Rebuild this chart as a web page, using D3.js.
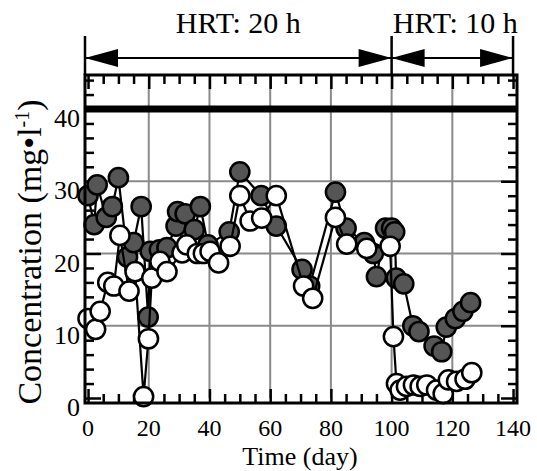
<!DOCTYPE html>
<html><head><meta charset="utf-8">
<script src="https://cdn.jsdelivr.net/npm/d3@7"></script>
<style>body{margin:0;background:#fff}svg{display:block}text{font-family:"Liberation Serif","Times New Roman",serif;fill:#000}</style>
</head><body><svg id="c" width="537" height="471"></svg>
<script>
const grayDays = [0, 2, 3, 6, 8, 10, 13, 15, 17.5, 19.8, 20.5, 23.5, 26, 29, 29.5, 32, 35, 37, 39.5, 46.5, 50, 57, 62, 70.5, 73, 81.5, 85, 91, 94, 95, 98, 100, 101, 101.5, 104, 107, 109, 114, 116.5, 118, 121, 123.5, 126];
const grayVals = [28, 24, 29.5, 25, 26.5, 30.5, 19.5, 21.5, 26.5, 11.2, 20.3, 20.5, 20.8, 23.8, 25.8, 25.5, 23.3, 26.5, 21.2, 23, 31.3, 28, 23.8, 17.8, 15.5, 28.5, 23.5, 21.5, 20, 16.8, 23.5, 23.5, 23, 16.6, 15.8, 10, 9.2, 7.2, 6.4, 9.8, 11, 12, 13.2];
const whiteDays = [0, 2.5, 4, 6.5, 8.5, 10.5, 13.5, 15.5, 18.3, 19.9, 21, 23.7, 26, 31, 32.5, 36, 38, 40.2, 43, 46.8, 50, 53.4, 57.2, 62, 71, 74, 81.5, 85.2, 91.8, 99.5, 100.6, 101.6, 102.8, 104.9, 107.2, 109.4, 111.6, 114.8, 117, 118.7, 121.4, 124.2, 126.4];
const whiteVals = [11, 9.5, 12, 16, 15.5, 22.5, 14.8, 17.5, 0.2, 8.2, 16.6, 18.9, 17.5, 20.1, 21.2, 20, 20, 20.3, 18.7, 21, 28, 24.5, 24.9, 28, 15.5, 13.8, 25, 21.3, 20.7, 21, 8.5, 2, 1.1, 1.6, 1.8, 1.6, 1.8, 1.1, 0.6, 2.5, 2.3, 2.6, 3.5];
const xTicks = [0, 20, 40, 60, 80, 100, 120, 140];
const yTicks = [0, 10, 20, 30, 40];
const influent = 40;
const hrtPeriods = [{label: "HRT: 20 h", from: -1, to: 100}, {label: "HRT: 10 h", from: 100, to: 140}];

const svg = d3.select("#c");
const L = 85, R = 517, T = 75, B = 403;
const x = d3.scaleLinear().domain([-1, 141.3]).range([L, R]);
const y = d3.scaleLinear().domain([0, 40]).range([398, 109]);
y.domain([y.invert(B), y.invert(T)]).range([B, T]);

// grid
const g = svg.append("g");
g.selectAll(".vg").data(xTicks.filter(d => d > 0 && d < 140)).join("line")
  .attr("x1", d => x(d)).attr("x2", d => x(d)).attr("y1", y(0)).attr("y2", T)
  .attr("stroke", "#8a8a8a").attr("stroke-width", 2);
g.selectAll(".hg").data(yTicks.filter(d => d > 0 && d < 40)).join("line")
  .attr("x1", L).attr("x2", R).attr("y1", d => y(d)).attr("y2", d => y(d))
  .attr("stroke", "#8a8a8a").attr("stroke-width", 2);

// ticks (inward) using axes
const xMinor = d3.range(0, 141, 5);
const yMinor = d3.range(0, 45, 2);
function tickLen(isMajor, maj, min){return isMajor ? maj : min;}
const axB = svg.append("g").attr("transform", `translate(0,${B})`)
  .call(d3.axisTop(x).tickValues(xMinor).tickSize(0).tickFormat(""));
axB.select(".domain").remove();
axB.selectAll(".tick line").attr("y2", d => -tickLen(d % 20 === 0, 14, 9)).attr("stroke", "#000").attr("stroke-width", 2.5);
const axT = svg.append("g").attr("transform", `translate(0,${T})`)
  .call(d3.axisBottom(x).tickValues(xMinor).tickSize(0).tickFormat(""));
axT.select(".domain").remove();
axT.selectAll(".tick line").attr("y2", d => tickLen(d % 20 === 0, 14, 9)).attr("stroke", "#000").attr("stroke-width", 2.5);
const axL = svg.append("g").attr("transform", `translate(${L},0)`)
  .call(d3.axisRight(y).tickValues(yMinor).tickSize(0).tickFormat(""));
axL.select(".domain").remove();
axL.selectAll(".tick line").attr("x2", d => tickLen(d % 10 === 0, 16, 9)).attr("stroke", "#000").attr("stroke-width", 2.5);
const axR = svg.append("g").attr("transform", `translate(${R},0)`)
  .call(d3.axisLeft(y).tickValues(yMinor).tickSize(0).tickFormat(""));
axR.select(".domain").remove();
axR.selectAll(".tick line").attr("x2", d => -tickLen(d % 10 === 0, 16, 9)).attr("stroke", "#000").attr("stroke-width", 2.5);

// influent line
svg.append("line").attr("x1", L).attr("x2", R).attr("y1", y(influent)).attr("y2", y(influent))
  .attr("stroke", "#000").attr("stroke-width", 7);

// series
const gray = grayDays.map((d, i) => [d, grayVals[i]]);
const white = whiteDays.map((d, i) => [d, whiteVals[i]]);
const line = d3.line().x(d => x(d[0])).y(d => y(d[1]));
function drawSeries(data, fill){
  svg.append("path").attr("d", line(data)).attr("fill", "none").attr("stroke", "#000").attr("stroke-width", 2.2);
  svg.append("g").selectAll("circle").data(data).join("circle")
    .attr("cx", d => x(d[0])).attr("cy", d => y(d[1])).attr("r", 9.6)
    .attr("fill", fill).attr("stroke", "#000").attr("stroke-width", 2.5);
}
drawSeries(gray, "#555");
drawSeries(white, "#fff");

// frame
svg.append("rect").attr("x", L).attr("y", T).attr("width", R - L).attr("height", B - T)
  .attr("fill", "none").attr("stroke", "#000").attr("stroke-width", 3);

// tick labels
svg.append("g").selectAll("text").data(xTicks).join("text")
  .attr("x", d => x(d)).attr("y", 436).attr("text-anchor", "middle").attr("font-size", 24).text(d => d);
svg.append("g").selectAll("text").data(yTicks).join("text")
  .attr("x", 80).attr("y", d => y(d) + 9).attr("dy", "0.35em").attr("text-anchor", "end").attr("font-size", 26).text(d => d);

// titles
svg.append("text").attr("x", 300).attr("y", 465).attr("text-anchor", "middle").attr("font-size", 26).text("Time (day)");
const yt = svg.append("text").attr("transform", "translate(41,252) rotate(-90)").attr("text-anchor", "middle").attr("font-size", 34);
yt.append("tspan").text("Concentration (mg•l");
yt.append("tspan").attr("font-size", 20).attr("dy", -12).text("-1");
yt.append("tspan").attr("dy", 12).text(")");

// HRT arrows
const ay = 58, ah = 33, aw = 9;
const hg = svg.append("g");
const bounds = [-1, 100, 140];
hg.selectAll(".vb").data(bounds).join("line")
  .attr("x1", d => x(d)).attr("x2", d => x(d)).attr("y1", 36).attr("y2", T)
  .attr("stroke", "#000").attr("stroke-width", 2.5);
hrtPeriods.forEach(p => {
  const a = x(p.from), b = x(p.to);
  hg.append("line").attr("x1", a).attr("x2", b).attr("y1", ay).attr("y2", ay).attr("stroke", "#000").attr("stroke-width", 2);
  hg.append("path").attr("d", `M${a},${ay}L${a + ah},${ay - aw}L${a + ah},${ay + aw}Z`).attr("fill", "#000");
  hg.append("path").attr("d", `M${b},${ay}L${b - ah},${ay - aw}L${b - ah},${ay + aw}Z`).attr("fill", "#000");
  hg.append("text").attr("x", (a + b) / 2 + (p.to === 140 ? 3 : 0)).attr("y", 33).attr("text-anchor", "middle").attr("font-size", 30).text(p.label);
});
</script></body></html>
